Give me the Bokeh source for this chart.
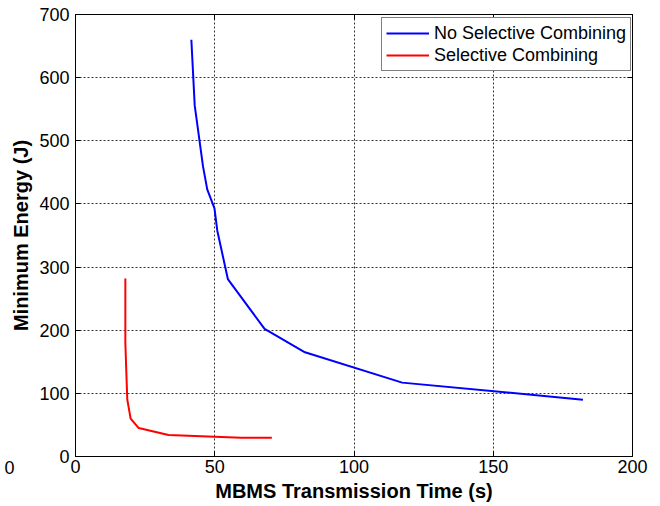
from bokeh.plotting import figure
from bokeh.models import Range1d, Label, FixedTicker, Legend, LegendItem, LinearAxis
from bokeh.embed import file_html
from bokeh.resources import INLINE

# Data
nsc_time = [41.6, 42.8, 45.8, 47.3, 49.9, 50.9, 54.7, 67.9, 82.4, 117.3, 182.2]
nsc_energy = [660, 556, 459, 423, 393, 358, 281, 202, 165, 117, 90]
sc_time = [17.9, 17.9, 18.3, 18.6, 19.8, 22.7, 33.4, 59.5, 70.5]
sc_energy = [282, 180, 127, 90, 60, 45, 34, 29.5, 29.5]
x_ticks = [0, 50, 100, 150, 200]
y_ticks = [0, 100, 200, 300, 400, 500, 600, 700]

FONT = "Liberation Sans"

p = figure(width=652, height=504, output_backend="svg", toolbar_location=None,
           x_range=Range1d(0, 200), y_range=Range1d(0, 700),
           min_border_left=75, min_border_right=20, min_border_top=14, min_border_bottom=43)
p.background_fill_color = "white"
p.border_fill_color = "white"
p.outline_line_color = "black"
p.outline_line_width = 1

for ax in (p.xaxis[0], p.yaxis[0]):
    ax.major_tick_in = 5
    ax.major_tick_out = 0
    ax.minor_tick_in = 0
    ax.minor_tick_out = 0
    ax.axis_line_color = "black"
    ax.major_label_text_font = FONT
    ax.major_label_text_font_size = "18px"
    ax.major_label_text_color = "black"
    ax.axis_label_text_font = FONT
    ax.axis_label_text_font_style = "bold"
    ax.axis_label_text_font_size = "20px"
    ax.axis_label_text_color = "black"

p.xaxis.ticker = FixedTicker(ticks=x_ticks)
p.yaxis.ticker = FixedTicker(ticks=y_ticks)
p.xaxis.axis_label = "MBMS Transmission Time (s)"
p.yaxis.axis_label = "Minimum Energy (J)"
p.xaxis.major_label_standoff = 3
p.yaxis.major_label_standoff = 6
p.xaxis.axis_label_standoff = 4
p.yaxis.axis_label_standoff = 4

# box ticks on top and right (MATLAB style), no labels
for side in ("right", "above"):
    a = LinearAxis(ticker=FixedTicker(ticks=y_ticks if side == "right" else x_ticks),
                   major_tick_in=5, major_tick_out=0, minor_tick_in=0, minor_tick_out=0,
                   major_label_text_font_size="0px", major_label_text_color=None,
                   major_label_standoff=0, axis_line_color="black")
    p.add_layout(a, side)

for g in (p.xgrid[0], p.ygrid[0]):
    g.grid_line_color = "black"
    g.grid_line_alpha = 0.8
    g.grid_line_dash = "2 2"
    g.grid_line_width = 1

r1 = p.line(nsc_time, nsc_energy, line_color="#0000ff", line_width=2)
r2 = p.line(sc_time, sc_energy, line_color="#ff0000", line_width=2)

legend = Legend(items=[LegendItem(label="No Selective Combining", renderers=[r1]),
                       LegendItem(label="Selective Combining", renderers=[r2])],
                location=(306, 385))
legend.label_text_font = FONT
legend.label_text_font_size = "18px"
legend.label_text_color = "black"
legend.border_line_color = "black"
legend.border_line_width = 1
legend.margin = 0
legend.padding = 4
legend.spacing = 0
legend.glyph_width = 43
legend.glyph_height = 22
legend.label_height = 22
legend.label_standoff = 5
legend.background_fill_alpha = 1
p.add_layout(legend, "center")

# stray "0" at the far left of the reference, below the frame
# (placed in the right side panel so it does not take room on the left)
p.add_layout(Label(x=-628, y=-11, x_units="screen", y_units="screen", text="0",
                   text_font=FONT, text_font_size="18px", text_color="black",
                   text_baseline="middle", text_align="left"), "right")

open("out.html", "w").write(file_html(p, INLINE))
